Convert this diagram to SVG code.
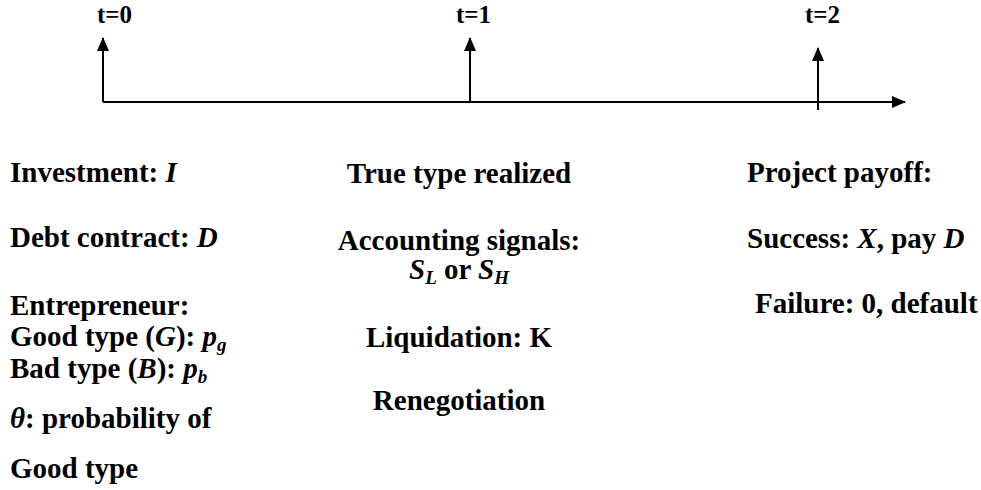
<svg xmlns="http://www.w3.org/2000/svg" width="981" height="490" viewBox="0 0 981 490">
<defs>
<marker id="ah" markerWidth="14" markerHeight="12" refX="13" refY="6" orient="auto" markerUnits="userSpaceOnUse">
<path d="M0,0 L14,6 L0,12 Z" fill="#000"/>
</marker>
</defs>
<rect width="981" height="490" fill="#fff"/>
<g id="connectors" stroke="#000" stroke-width="2">
<line x1="103" y1="102" x2="905" y2="102" marker-end="url(#ah)"/>
<line x1="103" y1="102" x2="103" y2="38" marker-end="url(#ah)"/>
<line x1="470" y1="102" x2="470" y2="38" marker-end="url(#ah)"/>
<line x1="818" y1="110" x2="818" y2="48" marker-end="url(#ah)"/>
</g>
<g id="t0"><text font-family="Liberation Serif" font-weight="bold" font-size="25" x="97" y="23">t=0</text></g>
<g id="t1"><text font-family="Liberation Serif" font-weight="bold" font-size="25" x="456" y="23">t=1</text></g>
<g id="t2"><text font-family="Liberation Serif" font-weight="bold" font-size="25" x="805" y="23">t=2</text></g>
<g id="t0-events" font-family="Liberation Serif" font-weight="bold" font-size="29">
<text x="10" y="182">Investment: <tspan font-style="italic">I</tspan></text>
<text x="10" y="247">Debt contract:  <tspan font-style="italic">D</tspan></text>
<text x="10" y="315">Entrepreneur:</text>
<text x="10" y="346">Good type (<tspan font-style="italic">G</tspan>): <tspan font-style="italic">p</tspan><tspan font-style="italic" font-size="19" dy="5">g</tspan></text>
<text x="10" y="378">Bad type (<tspan font-style="italic">B</tspan>): <tspan font-style="italic">p</tspan><tspan font-style="italic" font-size="19" dy="5">b</tspan></text>
<text x="10" y="428"><tspan font-style="italic">θ</tspan>: probability of</text>
<text x="10" y="478">Good type</text>
</g>
<g id="t1-events" font-family="Liberation Serif" font-weight="bold" font-size="29" text-anchor="middle">
<text x="459" y="183">True type realized</text>
<text x="459" y="250">Accounting signals:</text>
<text x="459" y="279"><tspan font-style="italic">S</tspan><tspan font-style="italic" font-size="19" dy="5">L</tspan><tspan dy="-5"> or </tspan><tspan font-style="italic">S</tspan><tspan font-style="italic" font-size="19" dy="5">H</tspan></text>
<text x="459" y="347">Liquidation: K</text>
<text x="459" y="410">Renegotiation</text>
</g>
<g id="t2-events" font-family="Liberation Serif" font-weight="bold" font-size="29">
<text x="747" y="182">Project payoff:</text>
<text x="747" y="248">Success: <tspan font-style="italic">X</tspan>, pay <tspan font-style="italic">D</tspan></text>
<text x="755" y="313">Failure: 0, default</text>
</g>
</svg>
